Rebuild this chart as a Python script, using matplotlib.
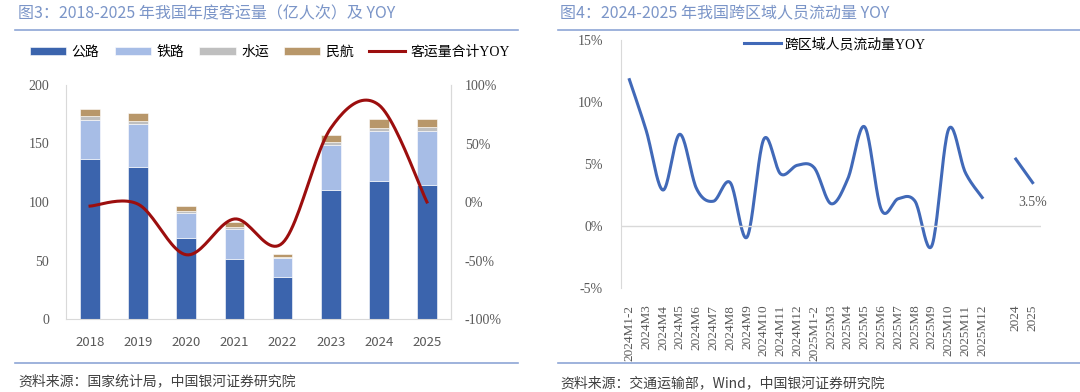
import numpy as np
import matplotlib.pyplot as plt
from matplotlib.lines import Line2D

plt.rcParams['font.family'] = ['Liberation Serif', 'Noto Sans CJK SC', 'DejaVu Sans']

# ---- data, chart 1 (亿人次) ----
years = ['2018', '2019', '2020', '2021', '2022', '2023', '2024', '2025']
road = [136.7, 130.1, 68.9, 50.9, 35.5, 110.1, 117.8, 114.7]
rail = [33.7, 36.6, 22.0, 26.1, 16.7, 38.5, 43.1, 46.4]
water = [2.8, 2.7, 1.5, 1.6, 1.2, 2.6, 2.6, 2.6]
air = [6.1, 6.6, 4.2, 4.4, 2.5, 6.2, 7.3, 7.6]
total_yoy = [-3.5, -1.9, -45.1, -14.5, -35.0, 63.0, 83.0, 0.0]

# ---- data, chart 2 (%) ----
months = ['2024M1-2', '2024M3', '2024M4', '2024M5', '2024M6', '2024M7', '2024M8',
          '2024M9', '2024M10', '2024M11', '2024M12', '2025M1-2', '2025M3', '2025M4',
          '2025M5', '2025M6', '2025M7', '2025M8', '2025M9', '2025M10', '2025M11',
          '2025M12']
month_yoy = [11.8, 7.7, 2.9, 7.4, 3.0, 2.0, 3.5, -0.9, 7.0, 4.2, 4.9, 4.7, 1.8, 3.8,
             8.0, 1.3, 2.2, 2.0, -1.6, 7.8, 4.3, 2.3]
annual = ['2024', '2025']
annual_yoy = [5.4, 3.5]


def smooth(x, y, n=24):
    # excel-like smoothed line (catmull-rom bezier)
    x = np.asarray(x, float)
    y = np.asarray(y, float)
    px = np.concatenate([[x[0]], x, [x[-1]]])
    py = np.concatenate([[y[0]], y, [y[-1]]])
    t = np.linspace(0, 1, n)
    xs, ys = [], []
    for i in range(1, len(x)):
        p0 = np.array([px[i], py[i]])
        p3 = np.array([px[i + 1], py[i + 1]])
        c1 = p0 + (p3 - np.array([px[i - 1], py[i - 1]])) / 6
        c2 = p3 - (np.array([px[i + 2], py[i + 2]]) - p0) / 6
        b = ((1 - t) ** 3)[:, None] * p0 + (3 * (1 - t) ** 2 * t)[:, None] * c1 \
            + (3 * (1 - t) * t ** 2)[:, None] * c2 + (t ** 3)[:, None] * p3
        xs.append(b[:, 0])
        ys.append(b[:, 1])
    return np.concatenate(xs), np.concatenate(ys)


tick_c = '#595959'
blue_line = '#8ea6d6'
sans = ['Noto Sans CJK SC', 'DejaVu Sans']
serif_cjk = ['Liberation Serif', 'Noto Sans CJK SC']

fig = plt.figure(figsize=(10.8, 3.92), dpi=100)
W, H = 1080, 392

# titles and separators
fig.text(18 / W, 1 - 14 / H, '图3：2018-2025 年我国年度客运量（亿人次）及 YOY', fontsize=11.5,
         color='#7b95c8', va='center', family=sans)
fig.text(560 / W, 1 - 14 / H, '图4：2024-2025 年我国跨区域人员流动量 YOY', fontsize=11.5,
         color='#7b95c8', va='center', family=sans)
for x0, x1 in [(15, 518), (558, 1080)]:
    fig.add_artist(Line2D([x0 / W, x1 / W], [1 - 30 / H, 1 - 30 / H], color=blue_line, lw=1.2))
    fig.add_artist(Line2D([x0 / W, x1 / W], [1 - 363 / H, 1 - 363 / H], color=blue_line, lw=1.2))
fig.text(18 / W, 1 - 381 / H, '资料来源：国家统计局，中国银河证券研究院', fontsize=10,
         color='#404040', va='center', family=sans, style='italic')
fig.text(560 / W, 1 - 383 / H, '资料来源：交通运输部，Wind，中国银河证券研究院', fontsize=10,
         color='#404040', va='center', family=sans, style='italic')

# ---- chart 1 ----
ax1 = fig.add_axes([66 / W, 1 - 319 / H, (451 - 66) / W, (319 - 85) / H])
x = np.arange(len(years))
bw = 0.41
cols = ['#3b64ad', '#a7bde6', '#bfbfbf', '#b8976a']
names = ['公路', '铁路', '水运', '民航']
bottom = np.zeros(len(years))
handles = []
for vals, c, nm in zip([road, rail, water, air], cols, names):
    b = ax1.bar(x, vals, bw, bottom=bottom, color=c, label=nm, edgecolor='white', linewidth=0.4)
    bottom += np.array(vals)
    handles.append(b)
ax1.set_xlim(-0.5, len(years) - 0.5)
ax1.set_ylim(0, 200)
ax1.set_yticks([0, 50, 100, 150, 200])
ax1.set_xticks(x)
ax1.set_xticklabels(years, family=sans)
ax1.tick_params(axis='y', length=0, pad=12, labelsize=10, colors=tick_c)
ax1.tick_params(axis='x', length=0, pad=12, labelsize=9.5, colors=tick_c)
ax1.spines['top'].set_visible(False)
for s in ['left', 'right', 'bottom']:
    ax1.spines[s].set_color('#d9d9d9')

ax1r = ax1.twinx()
sx, sy = smooth(x, total_yoy)
ln, = ax1r.plot(sx, sy, color='#9c0e0e', lw=2.2, label='客运量合计YOY')
ax1r.set_ylim(-100, 100)
ax1r.set_yticks([-100, -50, 0, 50, 100])
ax1r.set_yticklabels(['-100%', '-50%', '0%', '50%', '100%'])
ax1r.tick_params(axis='y', length=0, pad=10, labelsize=10, colors=tick_c)
for s in ['top', 'left', 'bottom']:
    ax1r.spines[s].set_visible(False)
ax1r.spines['right'].set_color('#d9d9d9')

fig.legend(handles + [ln], names + ['客运量合计YOY'], loc='center', ncol=5,
           bbox_to_anchor=(270 / W, 1 - 52 / H), frameon=False,
           handlelength=2.6, handleheight=0.55, columnspacing=1.1, handletextpad=0.4,
           prop={'family': serif_cjk, 'size': 10})

# ---- chart 2 ----
ax2 = fig.add_axes([621 / W, 1 - 288 / H, (1041 - 621) / W, (288 - 40) / H])
labels = months + [''] + annual
xm = np.arange(len(months))
xa = np.arange(len(months) + 1, len(labels))
mx, my = smooth(xm, month_yoy)
ax2.plot(mx, my, color='#4169b8', lw=2.2, label='跨区域人员流动量YOY')
ax2.plot(xa, annual_yoy, color='#4169b8', lw=2.2)
ax2.annotate('3.5%', (xa[-1], annual_yoy[-1]), xytext=(0, -14), textcoords='offset points',
             ha='center', va='center', fontsize=10, color=tick_c)
ax2.axhline(0, color='#d9d9d9', lw=1)
ax2.set_xlim(-0.5, len(labels) - 0.5)
ax2.set_ylim(-5, 15)
ax2.set_yticks([-5, 0, 5, 10, 15])
ax2.set_yticklabels(['-5%', '0%', '5%', '10%', '15%'])
ax2.set_xticks(np.arange(len(labels)))
ax2.set_xticklabels(labels, rotation=90)
ax2.tick_params(axis='y', length=0, pad=13, labelsize=10, colors=tick_c)
ax2.tick_params(axis='x', length=0, pad=12, labelsize=9.5, colors=tick_c)
for s in ['top', 'right', 'bottom']:
    ax2.spines[s].set_visible(False)
ax2.spines['left'].set_color('#d9d9d9')
ax2.legend(loc='upper center', bbox_to_anchor=(0.51, 1.06), frameon=False,
           handlelength=2.6, handletextpad=0.3, prop={'family': serif_cjk, 'size': 10})

fig.savefig('out.png', dpi=100)
